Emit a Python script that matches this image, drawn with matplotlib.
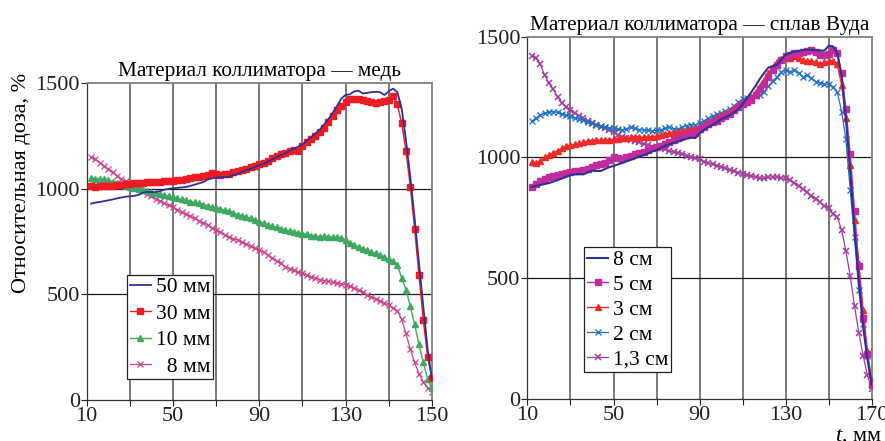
import numpy as np
import matplotlib
matplotlib.use("Agg")
import matplotlib.pyplot as plt
from matplotlib import font_manager

# make sure the serif face is registered (Times-like, as in the print figure)
for f in font_manager.findSystemFonts():
    if 'LiberationSerif' in f.replace(' ', ''):
        font_manager.fontManager.addfont(f)

plt.rcParams['font.family'] = 'serif'
plt.rcParams['font.serif'] = ['Liberation Serif', 'Times New Roman', 'DejaVu Serif']
plt.rcParams['mathtext.fontset'] = 'custom'
plt.rcParams['mathtext.it'] = 'Liberation Serif:italic'
plt.rcParams['mathtext.rm'] = 'Liberation Serif'

# depth, mm (both panels sampled every 2 mm)
x = np.arange(12, 171, 2)

# left panel: copper collimator
cu_50 = [930, 935, 938, 942, 946, 950, 955, 959, 963, 965,
         967, 972, 982, 986, 985, 985, 990, 996, 1000, 1003,
         1005, 1007, 1009, 1014, 1020, 1026, 1032, 1044, 1050, 1053,
         1055, 1056, 1058, 1065, 1072, 1080, 1088, 1095, 1103, 1112,
         1120, 1130, 1140, 1150, 1160, 1170, 1180, 1190, 1200, 1210,
         1228, 1245, 1262, 1280, 1305, 1330, 1360, 1392, 1428, 1445,
         1448, 1462, 1465, 1452, 1455, 1458, 1460, 1458, 1445, 1462,
         1475, 1458, 1380, 1230, 1055, 860, 650, 445, 245, 95]
cu_30 = [1013, 1010, 1012, 1013, 1014, 1015, 1017, 1020, 1022, 1025,
         1026, 1028, 1030, 1031, 1031, 1033, 1034, 1036, 1037, 1039,
         1041, 1043, 1046, 1050, 1054, 1058, 1062, 1066, 1073, 1071,
         1068, 1070, 1072, 1078, 1085, 1089, 1095, 1102, 1110, 1117,
         1125, 1134, 1145, 1155, 1165, 1172, 1178, 1182, 1180, 1205,
         1222, 1236, 1252, 1268, 1290, 1315, 1345, 1372, 1395, 1410,
         1425, 1428, 1425, 1420, 1418, 1412, 1405, 1412, 1418, 1422,
         1440, 1400, 1310, 1180, 1010, 810, 590, 380, 205, 105]
cu_10 = [1050, 1049, 1047, 1045, 1040, 1035, 1030, 1023, 1016, 1010,
         1006, 1000, 996, 992, 986, 980, 975, 970, 965, 960,
         955, 950, 946, 940, 936, 931, 926, 921, 915, 911,
         905, 899, 893, 886, 878, 873, 868, 862, 852, 845,
         838, 830, 823, 818, 812, 806, 802, 797, 792, 788,
         784, 779, 776, 774, 775, 774, 772, 770, 767, 760,
         745, 735, 724, 716, 710, 702, 695, 685, 675, 667,
         660, 640, 578, 522, 445, 358, 265, 178, 100, 55]
cu_8 = [1150, 1140, 1125, 1108, 1093, 1078, 1062, 1048, 1036, 1025,
        1012, 1000, 990, 978, 966, 954, 944, 932, 922, 912,
        902, 891, 880, 870, 860, 850, 840, 830, 817, 806,
        795, 783, 772, 762, 757, 748, 738, 728, 718, 710,
        700, 688, 672, 660, 648, 632, 622, 614, 606, 600,
        592, 584, 577, 570, 566, 562, 558, 554, 550, 545,
        538, 530, 520, 510, 498, 488, 478, 468, 458, 448,
        438, 422, 382, 315, 240, 178, 125, 85, 58, 38]

# right panel: Wood's alloy collimator
w_8 = [878, 882, 886, 890, 894, 900, 906, 913, 920, 927,
       930, 931, 930, 938, 945, 944, 944, 952, 960, 965,
       971, 977, 984, 990, 997, 1004, 1010, 1017, 1025, 1031,
       1040, 1048, 1054, 1060, 1066, 1072, 1078, 1082, 1080, 1100,
       1114, 1125, 1135, 1145, 1158, 1166, 1175, 1186, 1200, 1220,
       1245, 1270, 1296, 1325, 1350, 1372, 1378, 1383, 1405, 1425,
       1432, 1437, 1440, 1444, 1446, 1445, 1445, 1442, 1442, 1462,
       1460, 1430, 1340, 1160, 940, 700, 490, 300, 165, 58]
w_5 = [878, 890, 903, 912, 918, 922, 926, 930, 935, 938,
       942, 945, 949, 954, 960, 968, 972, 975, 988, 1000,
       997, 993, 1003, 1008, 1013, 1018, 1024, 1030, 1037, 1043,
       1049, 1056, 1063, 1071, 1079, 1087, 1094, 1100, 1103, 1116,
       1128, 1138, 1146, 1152, 1162, 1172, 1180, 1196, 1210, 1222,
       1230, 1237, 1258, 1282, 1305, 1334, 1360, 1384, 1402, 1418,
       1425, 1431, 1434, 1437, 1440, 1444, 1435, 1424, 1425, 1430,
       1445, 1434, 1350, 1200, 1015, 780, 550, 337, 185, 60]
w_3 = [980, 978, 985, 1002, 1010, 1018, 1028, 1038, 1046, 1050,
       1055, 1059, 1064, 1067, 1070, 1072, 1072, 1072, 1073, 1075,
       1077, 1080, 1082, 1084, 1086, 1085, 1083, 1085, 1086, 1088,
       1093, 1097, 1100, 1103, 1106, 1109, 1112, 1116, 1116, 1126,
       1136, 1145, 1155, 1165, 1174, 1183, 1192, 1204, 1215, 1226,
       1236, 1250, 1270, 1295, 1320, 1348, 1375, 1395, 1408, 1410,
       1413, 1420, 1410, 1402, 1400, 1399, 1395, 1387, 1393, 1400,
       1399, 1385, 1300, 1165, 970, 742, 560, 370, 200, 75]
w_2 = [1150, 1163, 1176, 1184, 1187, 1190, 1186, 1180, 1174, 1170,
       1163, 1160, 1155, 1148, 1141, 1136, 1131, 1127, 1123, 1120,
       1117, 1114, 1118, 1124, 1120, 1115, 1113, 1112, 1111, 1112,
       1114, 1122, 1124, 1118, 1116, 1124, 1132, 1136, 1135, 1142,
       1152, 1162, 1170, 1178, 1184, 1192, 1200, 1214, 1228, 1240,
       1248, 1252, 1254, 1258, 1272, 1294, 1318, 1332, 1355, 1360,
       1355, 1362, 1350, 1334, 1340, 1328, 1314, 1308, 1305, 1302,
       1292, 1270, 1190, 1075, 865, 670, 450, 310, 180, 60]
w_13 = [1420, 1410, 1385, 1340, 1308, 1282, 1250, 1226, 1210, 1198,
        1184, 1172, 1162, 1152, 1144, 1135, 1127, 1120, 1112, 1104,
        1094, 1086, 1080, 1074, 1068, 1062, 1056, 1050, 1045, 1042,
        1038, 1033, 1027, 1022, 1020, 1015, 1008, 1002, 996, 992,
        983, 976, 972, 966, 962, 955, 948, 942, 937, 933,
        928, 924, 918, 913, 914, 918, 920, 918, 916, 913,
        905, 895, 882, 868, 855, 842, 828, 814, 800, 790,
        768, 752, 700, 612, 510, 385, 275, 180, 98, 40]

xticks = [10, 50, 90, 130, 170]
left_xlabels = ['10', '50', '90', '130', '150']
right_xlabels = ['10', '50', '90', '130', '170']
yticks = [0, 500, 1000, 1500]


def style_axes(ax, xlabels):
    ax.set_xlim(10, 170)
    ax.set_ylim(0, 1500)
    grid_x = list(range(10, 171, 20))
    ax.set_xticks(grid_x)
    ax.set_xticklabels([xlabels[xticks.index(v)] if v in xticks else '' for v in grid_x])
    ax.set_yticks(yticks)
    ax.tick_params(direction='out', length=4, width=0.8, labelsize=16, pad=1, colors='#222222')
    for v in range(30, 170, 20):
        ax.axvline(v, color='#6d6d6d', lw=1.3, zorder=0)
    for v in [500, 1000]:
        ax.axhline(v, color='#1a1a1a', lw=0.9, zorder=0)
    for s in ['top', 'right']:
        ax.spines[s].set_color('#808080')
        ax.spines[s].set_linewidth(1.3)
    for s in ['left', 'bottom']:
        ax.spines[s].set_color('#333333')
        ax.spines[s].set_linewidth(0.9)


def boxed_legend(ax, anchor, spacing):
    leg = ax.legend(loc='lower left', bbox_to_anchor=anchor, fontsize=15.5,
                    frameon=True, fancybox=False, edgecolor='#222222', framealpha=1,
                    handlelength=1.0, handletextpad=0.2, borderpad=0.12,
                    labelspacing=spacing, borderaxespad=0)
    leg.get_frame().set_linewidth(0.9)
    return leg


fig = plt.figure(figsize=(8.85, 4.41), dpi=100)

ax1 = fig.add_axes([0.098, 0.093, 0.390, 0.718])
ax1.plot(x, cu_50, color='#2e3192', lw=1.3, label='50 мм', zorder=5)
ax1.plot(x, cu_30, color='#ed1c24', lw=1.0, marker='s', ms=4.8, label='30 мм', zorder=4)
ax1.plot(x, cu_10, color='#3fa863', lw=1.0, marker='^', ms=4.8, label='10 мм', zorder=3)
ax1.plot(x, cu_8, color='#c8458c', lw=0.9, marker='x', ms=3.8, mew=0.9, label='  8 мм', zorder=2)
style_axes(ax1, left_xlabels)
ax1.set_title('Материал коллиматора — медь', fontsize=15.3, pad=5)
boxed_legend(ax1, (0.117, 0.065), 0.3)

ax2 = fig.add_axes([0.596, 0.095, 0.389, 0.822])
ax2.plot(x, w_8, color='#2e3192', lw=1.5, label='8 см', zorder=6)
ax2.plot(x, w_5, color='#c02c9c', lw=1.0, marker='s', ms=4.8, label='5 см', zorder=5)
ax2.plot(x, w_3, color='#ee2a2a', lw=1.0, marker='^', ms=4.8, label='3 см', zorder=4)
ax2.plot(x, w_2, color='#1f6fc0', lw=0.9, marker='x', ms=3.8, mew=0.9, label='2 см', zorder=3)
ax2.plot(x, w_13, color='#a23c9e', lw=0.9, marker='x', ms=3.8, mew=1.1, label='1,3 см', zorder=2)
style_axes(ax2, right_xlabels)
ax2.set_title('Материал коллиматора — сплав Вуда', fontsize=15.3, pad=5)
boxed_legend(ax2, (0.165, 0.075), 0.22)

fig.text(0.024, 0.585, 'Относительная доза, %', rotation=90, fontsize=16,
         ha='center', va='center')
fig.text(0.997, -0.012, '$t$, мм', fontsize=16, ha='right', va='bottom')

fig.savefig('out.png', dpi=100, facecolor='white')
